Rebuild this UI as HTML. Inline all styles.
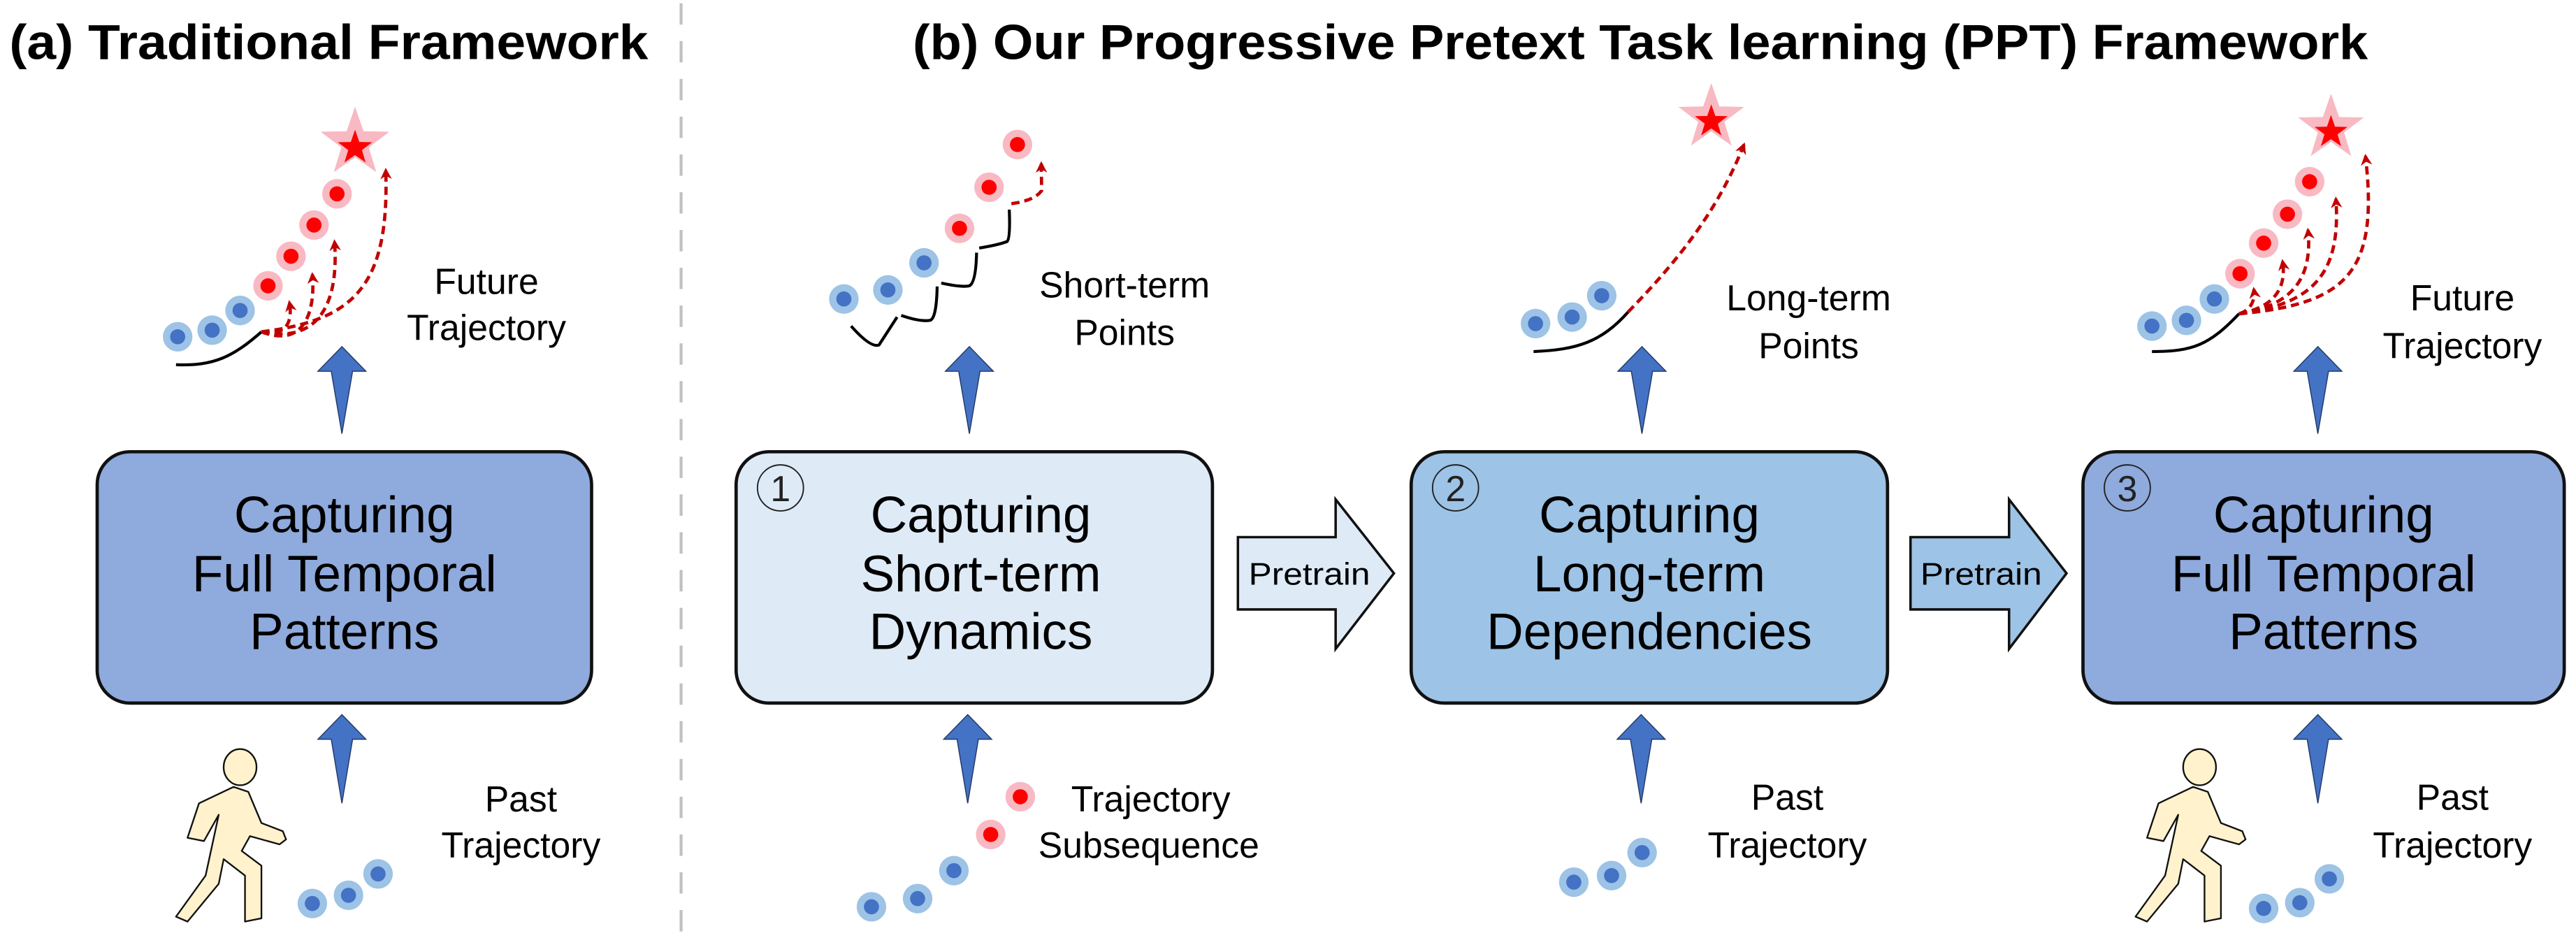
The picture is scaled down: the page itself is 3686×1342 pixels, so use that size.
<!DOCTYPE html>
<html><head><meta charset="utf-8"><style>
html,body{margin:0;padding:0;background:#fff;}
svg{display:block;}
text{font-family:"Liberation Sans",sans-serif;}
</style></head><body>
<svg width="3686" height="1342" viewBox="0 0 1568 571" xmlns="http://www.w3.org/2000/svg">
<defs>
<polygon id="star" points="0,-1 0.235,-0.324 0.951,-0.309 0.380,0.124 0.588,0.809 0,0.4 -0.588,0.809 -0.380,0.124 -0.951,-0.309 -0.235,-0.324"/>
<marker id="ah" viewBox="0 0 10 10" refX="8" refY="5" markerWidth="7" markerHeight="7" orient="auto" markerUnits="userSpaceOnUse">
<path d="M0,0 L10,5 L0,10 L3,5 Z" fill="#c00000"/>
</marker>
<g id="bdot"><circle r="9" fill="#9dc3e6"/><circle r="4.6" fill="#4472c4"/></g>
<g id="rdot"><circle r="9" fill="#f8b9c3"/><circle r="4.6" fill="#ff0000"/></g>
<g id="upT"><polygon points="0,0 14.6,15 6.5,15 0,53 -6.5,15 -14.6,15" fill="#4472c4" stroke="#1f3864" stroke-width="0.6"/></g>
<g id="person">
<polygon points="142,479 151,482 159,501 172,506 174,511 170,514 152,509 147,518 159,527 159,559 149,561 149,533 136,523 133,538 114,561 107,558 125,533 133,496 124,512 114,510 121,489" fill="#fff2cc" stroke="#111" stroke-width="1" stroke-linejoin="round"/>
<ellipse cx="146" cy="467" rx="10" ry="11" fill="#fff2cc" stroke="#111" stroke-width="1"/>
</g>
</defs>

<text x="5.5" y="36" font-size="30" font-weight="bold" textLength="389" lengthAdjust="spacingAndGlyphs">(a) Traditional Framework</text>
<text x="555.5" y="36" font-size="30" font-weight="bold" textLength="886" lengthAdjust="spacingAndGlyphs">(b) Our Progressive Pretext Task learning (PPT) Framework</text>

<line x1="414.5" y1="2" x2="414.5" y2="571" stroke="#c0c0c0" stroke-width="1.8" stroke-dasharray="13,10"/>

<rect x="59" y="275" width="301" height="153" rx="20" fill="#8faadc" stroke="#111" stroke-width="2"/>
<rect x="448" y="275" width="290" height="153" rx="20" fill="#deebf7" stroke="#111" stroke-width="2"/>
<rect x="859" y="275" width="290" height="153" rx="20" fill="#9dc3e6" stroke="#111" stroke-width="2"/>
<rect x="1268" y="275" width="293" height="153" rx="20" fill="#8faadc" stroke="#111" stroke-width="2"/>

<g font-size="31" text-anchor="middle" fill="#000">
<text x="209.5" y="324">Capturing</text><text x="209.5" y="360">Full Temporal</text><text x="209.5" y="395">Patterns</text>
<text x="597" y="324">Capturing</text><text x="597" y="360">Short-term</text><text x="597" y="395">Dynamics</text>
<text x="1004" y="324">Capturing</text><text x="1004" y="360">Long-term</text><text x="1004" y="395">Dependencies</text>
<text x="1414.5" y="324">Capturing</text><text x="1414.5" y="360">Full Temporal</text><text x="1414.5" y="395">Patterns</text>
</g>
<g fill="none" stroke="#222" stroke-width="0.8">
<circle cx="475" cy="297" r="14"/><circle cx="886" cy="297" r="14"/><circle cx="1295" cy="297" r="14"/>
</g>
<g font-size="22" text-anchor="middle" fill="#222">
<text x="475" y="305">1</text><text x="886" y="305">2</text><text x="1295" y="305">3</text>
</g>

<polygon points="753.5,327 813,327 813,304 848.5,349 813,395 813,371 753.5,371" fill="#deebf7" stroke="#111" stroke-width="1.5"/>
<text x="797" y="356" font-size="19" text-anchor="middle" textLength="74" lengthAdjust="spacingAndGlyphs">Pretrain</text>
<polygon points="1163,327 1223,327 1223,304 1258,349 1223,395 1223,371 1163,371" fill="#9dc3e6" stroke="#111" stroke-width="1.5"/>
<text x="1206" y="356" font-size="19" text-anchor="middle" textLength="74" lengthAdjust="spacingAndGlyphs">Pretrain</text>

<use href="#upT" x="208" y="211"/>
<use href="#upT" x="590" y="211"/>
<use href="#upT" x="999.5" y="211"/>
<use href="#upT" x="1411" y="211"/>
<polygon points="208,435 222.6,450 214.5,450 208,489 201.5,450 193.4,450" fill="#4472c4" stroke="#1f3864" stroke-width="0.6"/>
<polygon points="589,435 603.6,450 595.5,450 589,489 582.5,450 574.4,450" fill="#4472c4" stroke="#1f3864" stroke-width="0.6"/>
<polygon points="999,435 1013.6,450 1005.5,450 999,489 992.5,450 984.4,450" fill="#4472c4" stroke="#1f3864" stroke-width="0.6"/>
<polygon points="1411,435 1425.6,450 1417.5,450 1411,489 1404.5,450 1396.4,450" fill="#4472c4" stroke="#1f3864" stroke-width="0.6"/>

<!-- (a) top -->
<use href="#star" transform="translate(216,87) scale(22)" fill="#f8b9c3"/>
<use href="#star" transform="translate(216,90) scale(11)" fill="#ff0000"/>
<use href="#rdot" x="163" y="174"/><use href="#rdot" x="177" y="156"/><use href="#rdot" x="191" y="137"/><use href="#rdot" x="205" y="118"/>
<use href="#bdot" x="108" y="205"/><use href="#bdot" x="129" y="201"/><use href="#bdot" x="146" y="189"/>
<path d="M107 222 C130 223 142 217 159 202" fill="none" stroke="#000" stroke-width="1.8"/>
<g fill="none" stroke="#c00000" stroke-width="2" stroke-dasharray="5,3" marker-end="url(#ah)">
<path d="M159 202 C175 205 178 195 176 184"/>
<path d="M159 202 C185 212 192 190 190 167"/>
<path d="M159 202 C197 210 206 180 203.5 147"/>
<path d="M159 202 C215 195 237 175 234.7 103.5"/>
</g>
<g font-size="22" text-anchor="middle">
<text x="296" y="179">Future</text><text x="296" y="207">Trajectory</text>
</g>

<use href="#person"/>
<use href="#bdot" x="190" y="550"/><use href="#bdot" x="212" y="545"/><use href="#bdot" x="230" y="532"/>
<g font-size="22" text-anchor="middle">
<text x="317" y="494">Past</text><text x="317" y="522">Trajectory</text>
</g>

<!-- ① top -->
<use href="#bdot" x="513.6" y="182"/><use href="#bdot" x="540.4" y="176.5"/><use href="#bdot" x="562.4" y="160"/>
<use href="#rdot" x="584" y="139"/><use href="#rdot" x="602" y="114"/><use href="#rdot" x="619.3" y="88"/>
<g fill="none" stroke="#000" stroke-width="1.8">
<path d="M518 198.5 Q530 212 535 210 L546 193"/>
<path d="M548.5 192 Q560 196 566 195 Q570 194 570.4 174.4"/>
<path d="M572.9 172.3 Q585 175 590 174 Q594 172 594.4 153.8"/>
<path d="M596 151 Q608 149 613 147 Q615 145 614.3 127.6"/>
</g>
<path d="M615.6 124 Q630 122 634 116 L633.8 99.5" fill="none" stroke="#c00000" stroke-width="2" stroke-dasharray="5,3" marker-end="url(#ah)"/>
<g font-size="22" text-anchor="middle">
<text x="684.5" y="181">Short-term</text><text x="684.5" y="210">Points</text>
</g>

<use href="#bdot" x="530.4" y="552"/><use href="#bdot" x="558.5" y="547"/><use href="#bdot" x="580.6" y="530"/>
<use href="#rdot" x="603" y="508"/><use href="#rdot" x="621" y="485"/>
<text x="652" y="494" font-size="22">Trajectory</text>
<text x="632" y="522" font-size="22">Subsequence</text>

<!-- ② top -->
<use href="#star" transform="translate(1041.7,71.6) scale(21)" fill="#f8b9c3"/>
<use href="#star" transform="translate(1041.7,74) scale(10.5)" fill="#ff0000"/>
<use href="#bdot" x="934.7" y="197"/><use href="#bdot" x="957" y="193"/><use href="#bdot" x="975" y="180"/>
<path d="M933.5 214 C960 213 975 208 991 190" fill="none" stroke="#000" stroke-width="1.8"/>
<path d="M991 190 C1020 160 1045 130 1061.6 88" fill="none" stroke="#c00000" stroke-width="2" stroke-dasharray="5,3" marker-end="url(#ah)"/>
<g font-size="22" text-anchor="middle">
<text x="1101" y="189">Long-term</text><text x="1101" y="218">Points</text>
</g>

<use href="#bdot" x="958" y="537"/><use href="#bdot" x="981" y="533"/><use href="#bdot" x="999.6" y="519"/>
<g font-size="22" text-anchor="middle">
<text x="1088" y="493">Past</text><text x="1088" y="522">Trajectory</text>
</g>

<!-- ③ top -->
<use href="#star" transform="translate(1419,78) scale(21)" fill="#f8b9c3"/>
<use href="#star" transform="translate(1419,80.5) scale(10.5)" fill="#ff0000"/>
<use href="#rdot" x="1363.6" y="166.6"/><use href="#rdot" x="1378" y="148"/><use href="#rdot" x="1392.5" y="130.4"/><use href="#rdot" x="1406" y="110.6"/>
<use href="#bdot" x="1310" y="198.5"/><use href="#bdot" x="1331" y="195"/><use href="#bdot" x="1348" y="182"/>
<path d="M1310 214 C1335 214 1345 210 1363 191" fill="none" stroke="#000" stroke-width="1.8"/>
<g fill="none" stroke="#c00000" stroke-width="2" stroke-dasharray="5,3" marker-end="url(#ah)">
<path d="M1363 191 C1370 189 1373 183 1372 176"/>
<path d="M1363 191 C1385 187 1392 175 1389.5 159"/>
<path d="M1363 191 C1395 186 1408 170 1405 140"/>
<path d="M1363 191 C1410 185 1425 165 1422 121"/>
<path d="M1363 191 C1430 185 1448 165 1440 95"/>
</g>
<g font-size="22" text-anchor="middle">
<text x="1499" y="189">Future</text><text x="1499" y="218">Trajectory</text>
</g>

<use href="#person" transform="translate(1193,0)"/>
<use href="#bdot" x="1378" y="553"/><use href="#bdot" x="1400" y="549.5"/><use href="#bdot" x="1418" y="535"/>
<g font-size="22" text-anchor="middle">
<text x="1493" y="493">Past</text><text x="1493" y="522">Trajectory</text>
</g>
</svg>
</body></html>
